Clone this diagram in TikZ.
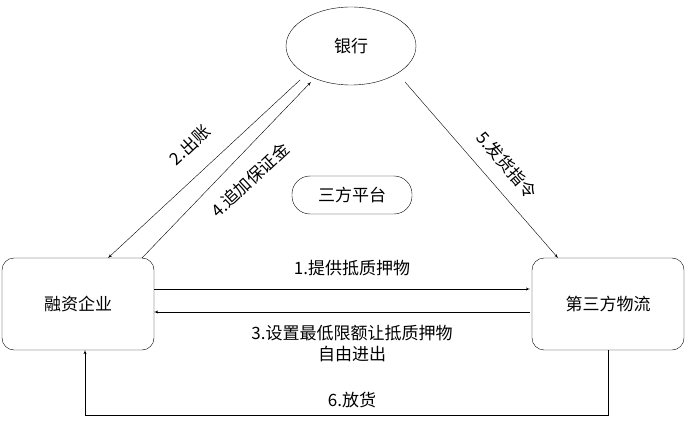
\documentclass[tikz,border=0pt]{standalone}
\usepackage{fontspec}
\setmainfont{Noto Sans CJK SC}
\usetikzlibrary{shapes,arrows}
\begin{document}
\begin{tikzpicture}[x=1pt, y=-1pt, auto, font=\fontsize{17}{21}\selectfont]
  \tikzstyle{party} = [rectangle, draw, rounded corners=12pt, minimum width=152pt, minimum height=92pt]
  \tikzstyle{hub} = [ellipse, draw, minimum width=130pt, minimum height=78pt]
  \tikzstyle{platform} = [rectangle, draw, rounded corners=18pt, minimum width=120pt, minimum height=38pt]
  \tikzstyle{line} = [draw, -latex']
  \useasboundingbox (0,0) rectangle (692,427);

  % Place nodes
  \node [hub] (bank) at (351,46) {银行};
  \node [platform] (plat) at (352,195) {三方平台};
  \node [party] (firm) at (78,304) {融资企业};
  \node [party] (logi) at (608,304) {第三方物流};
  \coordinate (b1) at (300,80);
  \coordinate (b2) at (311,82);
  \coordinate (b3) at (405,82);
  \coordinate (f1) at (108,258);
  \coordinate (f2) at (142,258);
  \coordinate (l1) at (558,258);
  \coordinate (fr1) at (154,289);
  \coordinate (lf1) at (530,289);
  \coordinate (fr2) at (154,312);
  \coordinate (lf2) at (530,312);
  \coordinate (lb) at (608,350);
  \coordinate (fb) at (85,350);

  % Draw edges
  \path [line] (b1) -- (f1);
  \path [line] (f2) -- (b2);
  \path [line] (b3) -- (l1);
  \path [line] (fr1) -- (lf1);
  \path [line] (lf2) -- (fr2);
  \path [line] (lb) -- (608,415) -| (fb);

  % Labels
  \node [rotate=43] (l2) at (190,145) {2.出账};
  \node [rotate=43] (l4) at (250,180) {4.追加保证金};
  \node [rotate=-49] (l5) at (507,165) {5.发货指令};
  \node (l1t) at (352,268) {1.提供抵质押物};
  \node [align=center] (l3) at (352,344) {3.设置最低限额让抵质押物\\自由进出};
  \node (l6) at (352,400) {6.放货};
\end{tikzpicture}
\end{document}
